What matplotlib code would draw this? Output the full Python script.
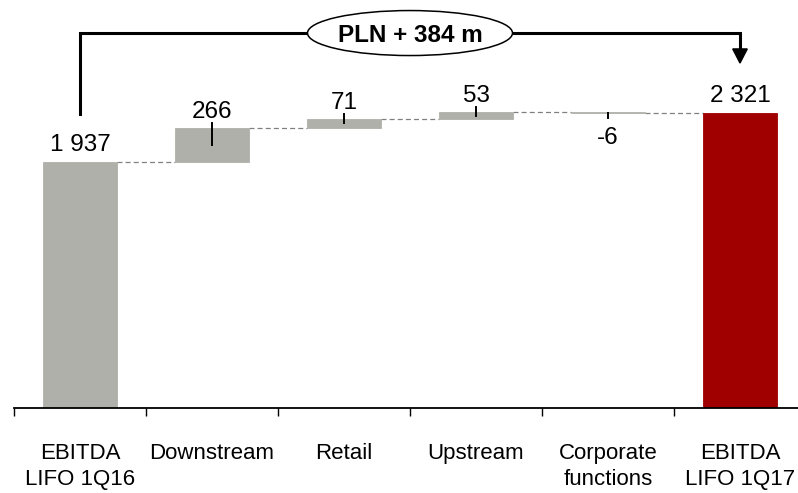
import matplotlib.pyplot as plt
from matplotlib.patches import Ellipse, Polygon

plt.rcParams['font.family'] = ['Liberation Sans', 'DejaVu Sans']

# dane
categories = ['EBITDA\nLIFO 1Q16', 'Downstream', 'Retail', 'Upstream',
              'Corporate\nfunctions', 'EBITDA\nLIFO 1Q17']
start_value = 1937
deltas = [266, 71, 53, -6]
end_value = 2321
value_labels = ['1 937', '266', '71', '53', '-6', '2 321']
bracket_text = 'PLN + 384 m'

grey = '#B0B0AA'
red = '#A00000'

fig = plt.figure(figsize=(7.98, 4.93), dpi=100)
ax = fig.add_axes([14 / 798, 85 / 493, 792 / 798, 408 / 493])

w = 0.56
n = len(categories)

# slupki
bottoms = [0]
heights = [start_value]
level = start_value
levels = [start_value]
for d in deltas:
    if d >= 0:
        bottoms.append(level)
    else:
        bottoms.append(level + d)
    heights.append(abs(d))
    level += d
    levels.append(level)
bottoms.append(0)
heights.append(end_value)

colors = [grey] * (n - 1) + [red]
ax.bar(range(n), heights, bottom=bottoms, width=w, color=colors,
       edgecolor=colors, linewidth=0.6, zorder=2)

# linie przerywane miedzy slupkami
for i in range(n - 1):
    ax.plot([i + w / 2, i + 1 - w / 2], [levels[i], levels[i]], color='#808080',
            lw=0.9, ls=(0, (4, 2.5)), zorder=1)

# etykiety wartosci
fs_val = 17.5
ax.annotate(value_labels[0], (0, start_value), xytext=(0, 8), textcoords='offset points',
            ha='center', va='baseline', fontsize=fs_val)
ax.annotate(value_labels[-1], (n - 1, end_value), xytext=(0, 8), textcoords='offset points',
            ha='center', va='baseline', fontsize=fs_val)
off = 40
for i, d in enumerate(deltas, start=1):
    mid = bottoms[i] + heights[i] / 2
    if d >= 0:
        top = bottoms[i] + heights[i]
        ax.plot([i, i], [mid, top + off], color='black', lw=1.4, zorder=3)
        ax.annotate(value_labels[i], (i, top), xytext=(0, 7.5), textcoords='offset points',
                    ha='center', va='baseline', fontsize=fs_val)
    else:
        bot = bottoms[i]
        ax.plot([i, i], [mid, bot - off], color='black', lw=1.4, zorder=3)
        ax.annotate(value_labels[i], (i, bot), xytext=(0, -10), textcoords='offset points',
                    ha='center', va='top', fontsize=fs_val)

# klamra z elipsa
yb = 2950
ax.plot([0, 0, n - 1, n - 1], [2313, yb, yb, 2820], color='black', lw=2.2,
        solid_joinstyle='miter', zorder=3, clip_on=False)
ax.add_patch(Polygon([(n - 1 - 0.055, 2825), (n - 1 + 0.055, 2825), (n - 1, 2714)],
                     closed=True, color='black', zorder=3))
ax.add_patch(Ellipse(((n - 1) / 2, yb), 1.553, 354, facecolor='white',
                     edgecolor='black', lw=1.1, zorder=4))
ax.text((n - 1) / 2, yb, bracket_text, ha='center', va='center_baseline',
        fontsize=17.5, fontweight='bold', zorder=5)

ax.set_xlim(-0.5, n - 0.5)
ax.set_ylim(0, 3210)
for s in ['top', 'right', 'left']:
    ax.spines[s].set_visible(False)
ax.spines['bottom'].set_linewidth(1.3)
ax.set_yticks([])
ax.set_xticks([i - 0.5 for i in range(n + 1)])
ax.set_xticklabels([])
ax.set_xticks(range(n), minor=True)
ax.set_xticklabels(categories, minor=True, fontsize=16, linespacing=1.35)
ax.tick_params(axis='x', which='major', direction='out', length=6, width=1)
ax.tick_params(axis='x', which='minor', length=0, pad=25)

fig.savefig('out.png', dpi=100)
